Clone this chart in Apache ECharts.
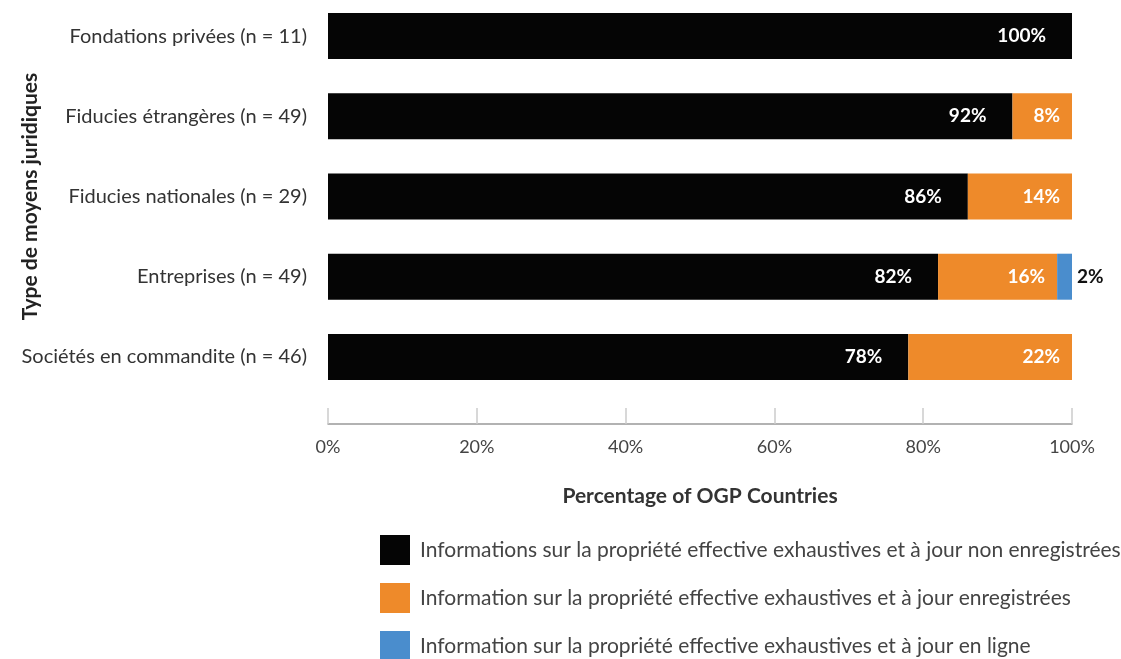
<!DOCTYPE html>
<html><head><meta charset="utf-8">
<script src="https://cdn.jsdelivr.net/npm/echarts@6/dist/echarts.min.js"></script>
<style>html,body{margin:0;padding:0;background:#fff;overflow:hidden}#c{position:relative;top:-4px;width:1121px;height:663px}</style>
</head><body><div id="c"></div>
<script>
const categories = ['Fondations privées (n = 11)','Fiducies étrangères (n = 49)','Fiducies nationales (n = 29)','Entreprises (n = 49)','Sociétés en commandite (n = 46)'];
const seriesNames = ['Informations sur la propriété effective exhaustives et à jour non enregistrées','Information sur la propriété effective exhaustives et à jour enregistrées','Information sur la propriété effective exhaustives et à jour en ligne'];
const notRegistered = [100, 92, 86, 82, 78];
const registered = [null, 8, 14, 16, 22];
const online = [null, null, null, 2, null];
const xTicks = [0, 20, 40, 60, 80, 100];

const FONT = 'Lato';
const chart = echarts.init(document.getElementById('c'));
chart.setOption({
  animation: false,
  textStyle: {fontFamily: FONT},
  grid: {left: 328, right: 49, top: 0, bottom: 262, containLabel: false, outerBoundsMode: 'none'},
  xAxis: {
    type: 'value', min: xTicks[0], max: xTicks[xTicks.length-1], interval: 20,
    offset: 27,
    axisLine: {show: true, lineStyle: {color: '#999', width: 1.5}},
    axisTick: {show: true, inside: true, length: 16, lineStyle: {color: '#ccc', width: 1.5}},
    splitLine: {show: false},
    axisLabel: {formatter: v => v + '%', color: '#444', fontSize: 18, margin: 14, fontFamily: FONT},
    name: 'Percentage of OGP Countries', nameLocation: 'middle', nameGap: 62, nameMoveOverlap: false,
    nameTextStyle: {fontSize: 21, fontWeight: 'bold', color: '#333', fontFamily: FONT}
  },
  yAxis: {
    type: 'category', data: categories, inverse: true,
    axisLine: {show: false}, axisTick: {show: false},
    axisLabel: {color: '#333', fontSize: 20, margin: 21, fontFamily: FONT},
    name: 'Type de moyens juridiques', nameLocation: 'middle', nameGap: 287, nameRotate: 90, nameMoveOverlap: false,
    nameTextStyle: {fontSize: 21, fontWeight: 'bold', color: '#222', fontFamily: FONT}
  },
  legend: {
    orient: 'vertical', left: 380, top: 539, height: 300, padding: 0,
    itemWidth: 30, itemHeight: 30, itemGap: 18,
    icon: 'rect', selectedMode: false,
    textStyle: {fontSize: 21, color: '#444', fontFamily: FONT, padding: [0,0,0,5]},
    data: seriesNames
  },
  series: [
    {name: seriesNames[0], type: 'bar', stack: 't', data: notRegistered, barWidth: 46,
     itemStyle: {color: '#050505'},
     label: {show: true, position: 'insideRight', distance: 26, color: '#fff', fontWeight: 'bold', fontSize: 19, formatter: p => p.value + '%'}},
    {name: seriesNames[1], type: 'bar', stack: 't', data: registered, barWidth: 46,
     itemStyle: {color: '#EE8A2A'},
     label: {show: true, position: 'insideRight', distance: 12, color: '#fff', fontWeight: 'bold', fontSize: 19, formatter: p => p.value + '%'}},
    {name: seriesNames[2], type: 'bar', stack: 't', data: online, barWidth: 46,
     itemStyle: {color: '#4A8DCD'},
     label: {show: true, position: 'right', distance: 5, color: '#111', fontWeight: 'bold', fontSize: 19, formatter: p => p.value + '%'}}
  ]
});
</script></body></html>
